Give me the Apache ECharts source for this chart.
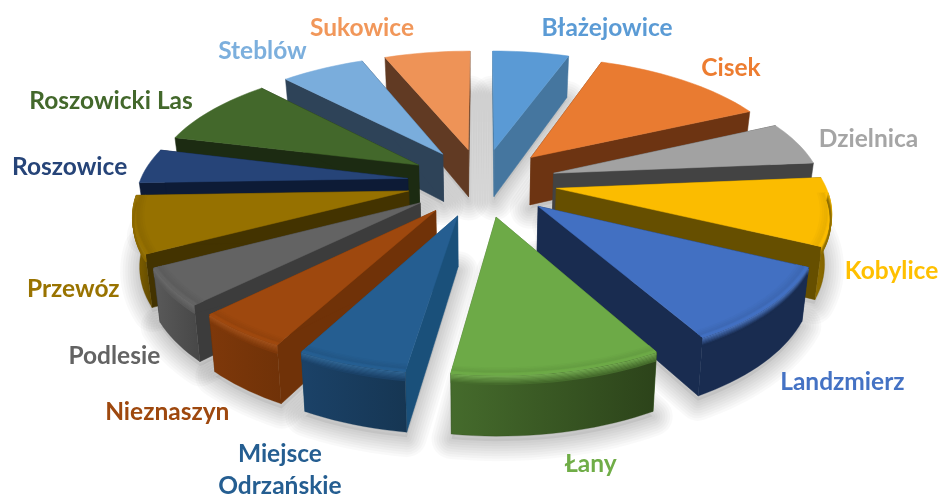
<!DOCTYPE html>
<html><head><meta charset="utf-8">
<style>html,body{margin:0;padding:0;background:#fff}#c{width:941px;height:495px}</style>
<script src="https://cdn.jsdelivr.net/npm/echarts@6/dist/echarts.min.js"></script>
</head><body><div id="c"></div>
<script>
// Data (share of the whole)
const categories = ['Błażejowice','Cisek','Dzielnica','Kobylice','Landzmierz','Łany','Miejsce\nOdrzańskie','Nieznaszyn','Podlesie','Przewóz','Roszowice','Roszowicki Las','Steblów','Sukowice'];
const values = [5.44,12.61,5.56,8.61,9.67,10.42,5.47,4.72,4.72,7.22,4.44,9.03,5.97,6.11];
// Style
const topColors = ['#5A9AD5','#E97B31','#A2A2A2','#FBBC00','#4270C2','#6DAA47','#255E91','#9E480E','#636363','#967100','#264478','#43682B','#7AADDC','#EE9357'];
const labelColors = ['#5B9BD5','#ED7D31','#A5A5A5','#FFC000','#4472C4','#70AD47','#255E91','#9E480E','#636363','#997300','#264478','#43682B','#7CAFDD','#F1975A'];
const sideColors = ['#45769F','#6D3412','#434343','#664F00','#192C50','#456B2C','#1A507A','#703208','#3C3C3C','#433300','#0D1B36','#1C2B12','#2E4358','#613A23'];
const arcLight = ['#45769F','#8C4A1D','#6A6A6A','#8F6E00','#192C50','#456B2C','#1B4268','#7E380A','#5A5A5A','#8A6700','#1A2F55','#2B421B','#4A7097','#8F5930'];
const arcDark = ['#3B6588','#6D3412','#555555','#7A5E00','#192C50','#2C431A','#163653','#703208','#474747','#5E4800','#0D1B36','#1C2B12','#2E4358','#613A23'];
const labelOffsets = [[76,-24],[47,-12],[71,-4],[60,59],[73,76],[32,92],[-71,106],[-73,81],[-56,69],[-60,64],[-78,1],[-101,-9],[-60,-18],[-65,-25]];
// Projection
const CX=482, CY=182, K=0.457, P=0.000564, EXPL=75, RAD=268, THICK=49;
const total = values.reduce((a,b)=>a+b,0);
const D2R=Math.PI/180;
function proj(X,Y,z){
  const s=1/(1-P*Y);
  const sh=1-0.02*z/THICK;
  return [CX+X*s*sh, CY+K*Y*s+z*s];
}
function ptOn(mid,ang,r,z){
  const X=EXPL*Math.sin(mid)+r*Math.sin(ang);
  const Y=-EXPL*Math.cos(mid)-r*Math.cos(ang);
  return proj(X,Y,z);
}
function arcPts(mid,a0,a1,r,z){
  const n=Math.max(2,Math.ceil((a1-a0)/D2R/2)), o=[];
  for(let i=0;i<=n;i++){const a=a0+(a1-a0)*i/n;o.push(ptOn(mid,a,r,z));}
  return o;
}
function mix2(c1,c2,t){
  const h=c=>[1,3,5].map(i=>parseInt(c.substr(i,2),16));
  const a=h(c1),b=h(c2);
  return '#'+a.map((v,i)=>Math.round(v+(b[i]-v)*t).toString(16).padStart(2,'0')).join('');
}
function render(params,api){
  const idx=params.dataIndex;
  let before=0;for(let i=0;i<idx;i++)before+=values[i];
  const v=api.value(0);
  const a0=before/total*2*Math.PI, a1=(before+v)/total*2*Math.PI, m=(a0+a1)/2;
  // painter's order: far slices first
  const depth=-Math.cos(m);
  const base=100+Math.round((depth+1)*500)*30;
  const apexT=ptOn(m,0,0,0), apexB=ptOn(m,0,0,THICK);
  const topArc=arcPts(m,a0,a1,RAD,0);
  const ch=[];
  const side=sideColors[idx];
  // soft cast shadow: widening translucent outlines of the bottom face
  const shadowPts=[ptOn(m,0,0,THICK+4)].concat(arcPts(m,a0,a1,RAD,THICK+4));
  ch.push({type:'polygon',z2:1,silent:true,shape:{points:shadowPts},style:{fill:'rgba(0,0,0,0.06)'}});
  [5,10,15,20,25,30,35,40].forEach((w,i)=>ch.push({type:'polygon',z2:2+i,silent:true,
    shape:{points:shadowPts},
    style:{fill:null,stroke:'rgba(0,0,0,0.024)',lineWidth:w,lineJoin:'round'}}));
  const wall=(a)=>({type:'polygon',z2:base,silent:true,
    shape:{points:[apexT,ptOn(m,a,RAD,0),ptOn(m,a,RAD,THICK),apexB]},
    style:{fill:side,stroke:side,lineWidth:0.5}});
  ch.push(wall(a0),wall(a1));
  // the rim wall exists only where it faces the viewer
  const lo=Math.max(a0,92*D2R), hi=Math.min(a1,268*D2R);
  if(hi>lo){
    const rt=arcPts(m,lo,hi,RAD,0), rb=arcPts(m,lo,hi,RAD,THICK);
    ch.push({type:'polygon',z2:base+1,silent:true,
      shape:{points:rt.concat(rb.slice().reverse())},
      style:{fill:new echarts.graphic.LinearGradient(0,0,1,0,[{offset:0,color:arcLight[idx]},{offset:1,color:arcDark[idx]}]),stroke:arcDark[idx],lineWidth:0.3}});
  }
  ch.push({type:'polygon',z2:base+2,silent:true,shape:{points:[apexT].concat(topArc)},
    style:{fill:topColors[idx],stroke:topColors[idx],lineWidth:0.5}});
  if(hi>lo){
    const tc=topColors[idx], ac=arcLight[idx];
    const bands=[];
    [[-10,.02],[-8,.04],[-6,.06],[-4,.07]].forEach(b=>bands.push({r:b[0],z:0,c:mix2(tc,'#000000',b[1]),w:2.4}));
    [[-3,.04],[-2,.0],[-1,.0]].forEach(b=>bands.push({r:b[0],z:0,c:mix2(tc,'#000000',b[1]),w:2}));
    [1,2,3,4,5,6,7].forEach(z=>bands.push({r:0,z:z,c:mix2(mix2(tc,'#FFFFFF',.06),ac,z/7),w:1.6}));
    bands.forEach((b,i)=>ch.push({type:'polyline',z2:base+3+i,silent:true,
      shape:{points:arcPts(m,lo,hi,RAD+b.r,b.z)},
      style:{stroke:b.c,lineWidth:b.w,fill:null}}));
  }
  // label anchored on the middle of the slice's rim
  const anchor=ptOn(m,m,RAD,0), off=labelOffsets[idx];
  ch.push({type:'text',z2:100000,silent:true,style:{
    x:anchor[0]+off[0],y:anchor[1]+off[1],text:categories[idx],
    fill:labelColors[idx],font:'bold 24.5px Lato',align:'center',verticalAlign:'middle',lineHeight:32}});
  return {type:'group',children:ch};
}
const chart=echarts.init(document.getElementById('c'),null,{renderer:'canvas'});
chart.setOption({
  animation:false,
  backgroundColor:'#ffffff',
  series:[{type:'custom',coordinateSystem:'none',renderItem:render,silent:true,
    data:values.map(v=>[v])}]
});
</script></body></html>
